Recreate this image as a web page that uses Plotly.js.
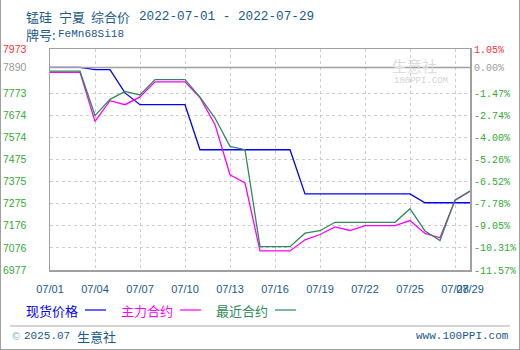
<!DOCTYPE html>
<html>
<head>
<meta charset="utf-8">
<script src="https://cdn.plot.ly/plotly-3.0.1.min.js"></script>
<style>
html,body{margin:0;padding:0;background:#fff;}
#chart{width:520px;height:350px;}
</style>
</head>
<body>
<div id="chart"></div>
<script>
// ---- data ----
const dates = ['2022-07-01','2022-07-02','2022-07-03','2022-07-04','2022-07-05','2022-07-06','2022-07-07',
  '2022-07-08','2022-07-09','2022-07-10','2022-07-11','2022-07-12','2022-07-13','2022-07-14',
  '2022-07-15','2022-07-16','2022-07-17','2022-07-18','2022-07-19','2022-07-20','2022-07-21',
  '2022-07-22','2022-07-23','2022-07-24','2022-07-25','2022-07-26','2022-07-27','2022-07-28','2022-07-29'];
const spotPrice = [7890,7890,7890,7880,7880,7775,7722,7722,7722,7722,7519,7519,7519,7519,
  7519,7519,7519,7320,7320,7320,7320,7320,7320,7320,7320,7280,7280,7280,7280];
const mainContract = [7868,7868,7868,7647,7740,7722,7757,7825,7825,7825,7754,7632,7406,7369,
  7063,7063,7063,7113,7137,7171,7155,7177,7177,7177,7200,7142,7122,7291,7332];
const nearestContract = [7873,7873,7873,7673,7746,7782,7766,7835,7835,7835,7756,7662,7534,7519,
  7082,7082,7082,7143,7154,7192,7192,7192,7192,7192,7253,7153,7110,7293,7333];

const xTickVals = ['2022-07-01','2022-07-04','2022-07-07','2022-07-10','2022-07-13','2022-07-16',
  '2022-07-19','2022-07-22','2022-07-25','2022-07-28','2022-07-29'];
const xTickText = ['07/01','07/04','07/07','07/10','07/13','07/16','07/19','07/22','07/25','07/28','07/29'];

const yTickVals = [7973,7890,7773.8,7674.2,7574.6,7475,7375.4,7275.8,7176.2,7076.6,6977];
const yTickText = ['7973','7890','7773','7674','7574','7475','7375','7275','7176','7076','6977'];
const pctTickText = ['1.05%','0.00%','-1.47%','-2.74%','-4.00%','-5.26%','-6.52%','-7.78%','-9.05%','-10.31%','-11.57%'];
const basePrice = 7890;

const seriesNames = ['现货价格','主力合约','最近合约'];
const seriesColors = ['#0000ff','#ff00ff','#2e8b57'];

// ---- helpers ----
const RED='#ff3030', GREY='#999999', GREEN='#33aa33';
function colorFor(i){ return i===0?RED:(i===1?GREY:GREEN); }
const leftText = yTickText.map((t,i)=>'<span style="color:'+colorFor(i)+'">'+t+'</span>');
const rightText = pctTickText.map((t,i)=>'<span style="color:'+colorFor(i)+'">'+t+'</span>');

// plot area: l=50 r=50 t=49 b=80 => 420 x 221
const PL=50, PW=420, PT=49, PH=221;
const px2x = p => (p-PL)/PW;
const py2y = p => (PT+PH-p)/PH;

const traces = [
  {x:dates,y:spotPrice,name:seriesNames[0],mode:'lines',line:{color:seriesColors[0],width:1.3},hoverinfo:'skip'},
  {x:dates,y:mainContract,name:seriesNames[1],mode:'lines',line:{color:seriesColors[1],width:1.3},hoverinfo:'skip'},
  {x:dates,y:nearestContract,name:seriesNames[2],mode:'lines',line:{color:seriesColors[2],width:1.3},hoverinfo:'skip'},
  {x:dates,y:spotPrice,yaxis:'y2',mode:'lines',line:{width:0},opacity:0,showlegend:false,hoverinfo:'skip'}
];

const TEAL='#1a5a8a';
const CJK='"Noto Sans CJK SC", sans-serif';
const MONO='"Liberation Mono", "DejaVu Sans Mono", monospace';

const ann = [];
function addText(text, xpx, ypx, font, anchor){
  ann.push({text:text, xref:'paper', yref:'paper', x:px2x(xpx), y:py2y(ypx),
    xanchor:anchor||'left', yanchor:'middle', showarrow:false, font:font});
}
// header
addText('锰硅', 24, 16, {family:CJK,size:13,color:TEAL});
addText('宁夏', 57, 16, {family:CJK,size:13,color:TEAL});
addText('综合价', 89, 16, {family:CJK,size:13,color:TEAL});
addText('2022-07-01 - 2022-07-29', 137, 16, {family:MONO,size:12.7,color:TEAL});
addText('牌号:', 24, 34, {family:CJK,size:13,color:TEAL});
addText('FeMn68Si18', 56, 34, {family:MONO,size:11,color:TEAL});
// watermark
addText('生意社', 390, 66, {family:CJK,size:15,color:'#dcdcdc'});
addText('100PPI.COM', 392, 81, {family:MONO,size:9,color:'#d4d4d4'});
// legend
const legX = [24, 119, 214];
const shapes = [];
seriesNames.forEach((n,i)=>{
  addText(n, legX[i], 310, {family:CJK,size:13,color:seriesColors[i]});
  shapes.push({type:'line',xref:'paper',yref:'paper',x0:px2x(legX[i]+61),x1:px2x(legX[i]+82),
    y0:py2y(310),y1:py2y(310),line:{color:seriesColors[i],width:1.2}});
});
// footer
addText('©', 9, 336, {family:'DejaVu Sans',size:10,color:'#8fb0c8'});
addText('2025.07', 22, 336, {family:MONO,size:11,color:TEAL});
addText('生意社', 75, 336, {family:CJK,size:13,color:TEAL});
addText('www.100PPI.com', 511, 336, {family:MONO,size:11,color:TEAL}, 'right');

// base (0%) line
shapes.push({type:'line',xref:'paper',yref:'y',x0:0,x1:1,y0:basePrice,y1:basePrice,line:{color:'#a0a0a0',width:1.5}});
// separator
shapes.push({type:'line',xref:'paper',yref:'paper',x0:px2x(10),x1:px2x(510),y0:py2y(326),y1:py2y(326),line:{color:'#aaaaaa',width:1}});
// outer frame (left, right, bottom)
shapes.push({type:'line',xref:'paper',yref:'paper',x0:px2x(0.5),x1:px2x(0.5),y0:py2y(0),y1:py2y(349.5),line:{color:'#a0a0a0',width:1}});
shapes.push({type:'line',xref:'paper',yref:'paper',x0:px2x(519.5),x1:px2x(519.5),y0:py2y(0),y1:py2y(349.5),line:{color:'#a0a0a0',width:1}});
shapes.push({type:'line',xref:'paper',yref:'paper',x0:px2x(0),x1:px2x(520),y0:py2y(349.5),y1:py2y(349.5),line:{color:'#a0a0a0',width:1}});

const layout = {
  width:520, height:350,
  margin:{l:50,r:50,t:49,b:80,pad:0},
  paper_bgcolor:'#ffffff', plot_bgcolor:'#ffffff',
  showlegend:false, hovermode:false,
  xaxis:{type:'date',range:['2022-07-01','2022-07-29'],tickmode:'array',tickvals:xTickVals,ticktext:xTickText,
    tickangle:0,showgrid:true,gridcolor:'#cccccc',griddash:'3px,3px',gridwidth:1,
    showline:true,mirror:true,linecolor:'#a0a0a0',linewidth:1.5,zeroline:false,ticks:'',
    ticklabelstandoff:8,tickfont:{family:'Liberation Sans, Arial',size:11,color:TEAL}},
  yaxis:{range:[6977,7973],tickmode:'array',tickvals:yTickVals,ticktext:leftText,
    showgrid:true,gridcolor:'#cccccc',griddash:'3px,3px',gridwidth:1,
    showline:true,mirror:true,linecolor:'#a0a0a0',linewidth:1.5,zeroline:false,ticks:'',
    ticklabelstandoff:20,tickfont:{family:'Liberation Sans, Arial',size:10.5,color:GREEN}},
  yaxis2:{overlaying:'y',side:'right',range:[6977,7973],tickmode:'array',tickvals:yTickVals,ticktext:rightText,
    showgrid:false,showline:false,zeroline:false,ticks:'',ticklabelstandoff:3,
    tickfont:{family:MONO,size:10,color:GREEN}},
  annotations:ann,
  shapes:shapes
};

Plotly.newPlot('chart', traces, layout, {staticPlot:true, displayModeBar:false});
</script>
</body>
</html>
